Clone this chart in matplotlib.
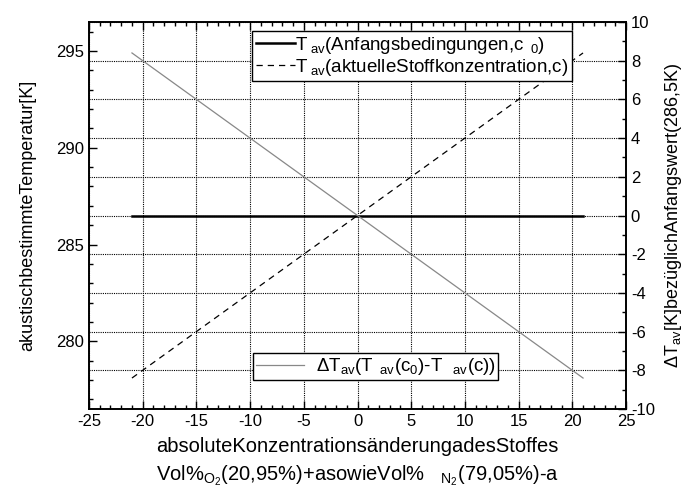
import numpy as np
import matplotlib
matplotlib.use("Agg")
import matplotlib.pyplot as plt
from matplotlib.ticker import MultipleLocator

plt.rcParams['font.family'] = ['Liberation Sans', 'DejaVu Sans']
plt.rcParams['mathtext.fontset'] = 'custom'
plt.rcParams['mathtext.rm'] = 'Liberation Sans'
plt.rcParams['mathtext.it'] = 'Liberation Sans'
plt.rcParams['axes.unicode_minus'] = False

# data
c = [-21, 21]                  # absolute concentration change a
T0 = [286.5, 286.5]            # T_av at initial conditions [K]
Tc = [278.1, 294.9]            # T_av at current concentration [K]
dT = [8.4, -8.4]               # delta T_av [K]

fig = plt.figure(figsize=(6.91, 4.95), dpi=100)
ax = fig.add_axes([89/691, 1 - 409/495, (626 - 89)/691, (409 - 22)/495])
ax2 = ax.twinx()

l1, = ax.plot(c, T0, color='black', lw=1.8,
              label=r'T$_{\rm\ av}$(Anfangsbedingungen,c$_{\rm\ \ 0}$)')
l2, = ax.plot(c, Tc, color='black', lw=0.9, ls=(0, (5, 4)),
              label=r'T$_{\rm\ av}$(aktuelleStoffkonzentration,c)')
l3, = ax2.plot(c, dT, color='#888888', lw=0.9,
               label=r'$\Delta$T$_{\rm av}$(T$_{\rm\ \ av}$(c$_{0}$)-T$_{\rm\ \ \ av}$(c))')

ax.set_xlim(-25, 25)
ax.set_ylim(276.5, 296.5)
ax2.set_ylim(-10, 10)

ax.xaxis.set_major_locator(MultipleLocator(5))
ax.xaxis.set_minor_locator(MultipleLocator(1))
ax.yaxis.set_major_locator(MultipleLocator(5))
ax.yaxis.set_minor_locator(MultipleLocator(1))
ax2.yaxis.set_major_locator(MultipleLocator(2))
ax2.yaxis.set_minor_locator(MultipleLocator(1))

ax.tick_params(which='both', direction='in', top=True, labelsize=12, width=1)
ax.tick_params(which='major', length=6)
ax.tick_params(which='minor', length=3)
ax2.tick_params(which='both', direction='in', labelsize=12, width=1)
ax2.tick_params(which='major', length=6)
ax2.tick_params(which='minor', length=3)

for a in (ax, ax2):
    for s in a.spines.values():
        s.set_linewidth(1.2)

ax.xaxis.grid(True, which='major', ls=(0, (1, 1)), color='black', lw=0.8)
ax2.yaxis.grid(True, which='major', ls=(0, (1, 1)), color='black', lw=0.8)

ax.set_ylabel('akustischbestimmteTemperatur[K]', fontsize=13, labelpad=14)
ax2.set_ylabel(r'$\Delta$T$_{\rm av}$[K]bezüglichAnfangswert(286,5K)', fontsize=13, labelpad=6)
ax.set_xlabel('absoluteKonzentrationsänderungadesStoffes\n'
              r'Vol%$_{\rm O_2}$(20,95%)+asowieVol%   $_{\rm N_2}$(79,05%)-a',
              fontsize=14.5, labelpad=6, linespacing=1.45)

leg1 = ax2.legend(handles=[l1, l2], loc='upper left', bbox_to_anchor=(0.3035, 0.977),
                  fontsize=13.5, frameon=True, fancybox=False, framealpha=1,
                  edgecolor='black', handlelength=2.1, handletextpad=0.0,
                  borderpad=0.2, labelspacing=0.05, borderaxespad=0)
leg1.get_frame().set_linewidth(1.0)
ax2.add_artist(leg1)
leg2 = ax2.legend(handles=[l3], loc='lower left', bbox_to_anchor=(0.305, 0.075),
                  fontsize=13.5, frameon=True, fancybox=False, framealpha=1,
                  edgecolor='black', handlelength=2.6, handletextpad=0.6,
                  borderpad=0.15, borderaxespad=0)
leg2.get_frame().set_linewidth(1.0)

fig.savefig('out.png', dpi=100)
